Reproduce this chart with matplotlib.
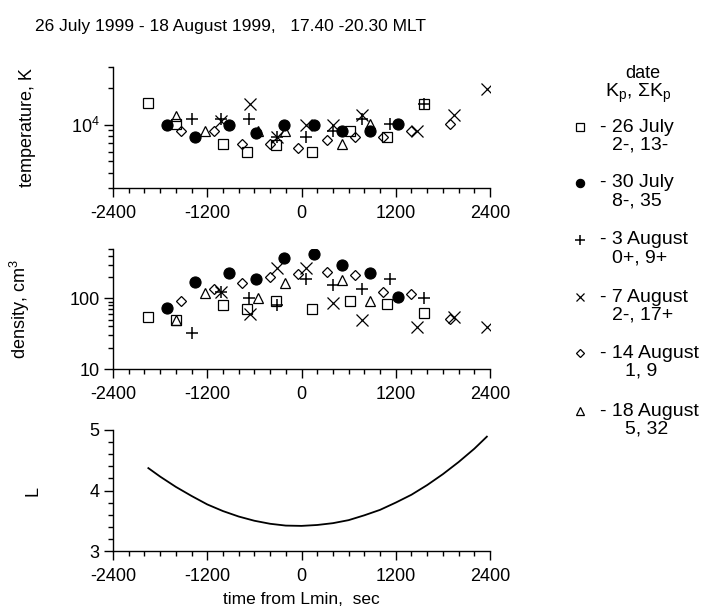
import matplotlib
matplotlib.use('Agg')
from matplotlib import pyplot as plt
from matplotlib.lines import Line2D
from matplotlib.ticker import MultipleLocator, FixedLocator, LogLocator, NullFormatter, FuncFormatter

plt.rcParams['font.family'] = ['Liberation Sans', 'DejaVu Sans']
plt.rcParams['mathtext.fontset'] = 'custom'
plt.rcParams['mathtext.rm'] = 'Liberation Sans'
plt.rcParams['mathtext.it'] = 'Liberation Sans:italic'

# ---- data (time from Lmin in sec) ----
t_jul26 = [-1955, -1593, -1000, -697, -331, 135, 620, 1087, 1558]
temp_jul26 = [15200, 10100, 6930, 5980, 6800, 5980, 8960, 7980, 14970]
dens_jul26 = [55, 50, 80, 71, 92, 71, 92, 82, 62.5]

t_jul30 = [-1712, -1351, -926, -574, -225, 157, 514, 870, 1231]
temp_jul30 = [10000, 7980, 10000, 8520, 10000, 10000, 8960, 8960, 10100]
dens_jul30 = [72, 171, 232, 186, 367, 423, 294, 232, 104]

t_aug03 = [-1390, -1025, -671, -314, 58, 403, 765, 1125, 1554]
temp_aug03 = [11160, 11160, 11160, 7980, 7900, 8960, 11160, 10100, 14970]
dens_aug03 = [32.5, 123, 100, 80, 186, 155, 134, 186, 102]

t_aug07 = [-1019, -654, -308, 53, 403, 772, 1475, 1941, 2357]
temp_aug07 = [10700, 14970, 7980, 10000, 10000, 12130, 8960, 12130, 19870]
dens_aug07 = [123, 61, 273, 273, 85, 50, 39.5, 55, 39.5]

t_aug14 = [-1529, -1117, -757, -395, -40, 320, 683, 1032, 1393, 1885]
temp_aug14 = [8960, 8960, 6930, 6930, 6460, 7500, 7980, 7980, 8960, 10100]
dens_aug14 = [92, 134, 167, 203, 219, 240, 212, 124, 117, 51.4]

t_aug18 = [-1593, -1232, -553, -213, 510, 870]
temp_aug18 = [11900, 8960, 8800, 8910, 6930, 10100]
dens_aug18 = [50, 120, 100, 163, 182, 92]

# L along the orbit
t_L = [-1950, -1800, -1600, -1400, -1200, -1000, -800, -600, -400, -200, 0,
       200, 400, 600, 800, 1000, 1200, 1400, 1600, 1800, 2000, 2200, 2360]
L_val = [4.37, 4.23, 4.06, 3.91, 3.77, 3.66, 3.57, 3.50, 3.45, 3.42, 3.415,
         3.43, 3.46, 3.51, 3.59, 3.68, 3.80, 3.93, 4.09, 4.27, 4.47, 4.69, 4.89]

series = [
    (t_jul26, temp_jul26, dens_jul26, dict(marker='s', ms=7.5, mfc='none', mew=0.9), '- 26 July', '2-, 13-'),
    (t_jul30, temp_jul30, dens_jul30, dict(marker='o', ms=8, mfc='black', mew=0.8), '- 30 July', '8-, 35'),
    (t_aug03, temp_aug03, dens_aug03, dict(marker='+', ms=9, mew=1.1), '- 3 August', '0+, 9+'),
    (t_aug07, temp_aug07, dens_aug07, dict(marker='x', ms=8, mew=0.9), '- 7 August', '2-, 17+'),
    (t_aug14, temp_aug14, dens_aug14, dict(marker='D', ms=5.5, mfc='none', mew=0.9), '- 14 August', '1, 9'),
    (t_aug18, temp_aug18, dens_aug18, dict(marker='^', ms=7.5, mfc='none', mew=0.9), '- 18 August', '5, 32'),
]

W, H = 711, 607
fig = plt.figure(figsize=(W / 100, H / 100), dpi=100)


def box(x0, y0, x1, y1):
    return [x0 / W, 1 - y1 / H, (x1 - x0) / W, (y1 - y0) / H]


ax_t = fig.add_axes(box(113, 67, 490, 188))
ax_n = fig.add_axes(box(113, 249, 490, 369))
ax_L = fig.add_axes(box(113, 430, 490, 551))

for ax in (ax_t, ax_n, ax_L):
    for s in ('top', 'right'):
        ax.spines[s].set_visible(False)
    ax.spines['left'].set_linewidth(1.0)
    ax.spines['bottom'].set_linewidth(1.0)
    ax.set_xlim(-2400, 2400)
    ax.xaxis.set_major_locator(MultipleLocator(1200))
    ax.xaxis.set_minor_locator(MultipleLocator(200))
    ax.tick_params(which='major', direction='out', length=6.5, width=1.0, labelsize=13, pad=6)
    ax.tick_params(axis='y', which='major', pad=3)
    ax.tick_params(which='minor', direction='out', length=3.8, width=1.0)
    ax.xaxis.set_major_formatter(FuncFormatter(lambda v, p: '%d' % v))

for t, temp, dens, st, _, _ in series:
    ax_t.plot(t, temp, ls='none', color='black', mec='black', **st)
    ax_n.plot(t, dens, ls='none', color='black', mec='black', **st)

ax_t.set_yscale('log')
ax_t.set_ylim(3000, 30000)
ax_t.yaxis.set_major_locator(FixedLocator([10000]))
ax_t.yaxis.set_minor_locator(LogLocator(base=10, subs=range(2, 10)))
ax_t.yaxis.set_major_formatter(FuncFormatter(lambda v, p: r'$\mathregular{10^4}$'))
ax_t.yaxis.set_minor_formatter(NullFormatter())
ax_t.set_ylabel('temperature, K', fontsize=13)
ax_t.yaxis.set_label_coords(-0.205, 0.5)

ax_n.set_yscale('log')
ax_n.set_ylim(10, 500)
ax_n.yaxis.set_major_locator(FixedLocator([10, 100]))
ax_n.yaxis.set_minor_locator(LogLocator(base=10, subs=range(2, 10)))
ax_n.yaxis.set_major_formatter(FuncFormatter(lambda v, p: '%d' % v))
ax_n.yaxis.set_minor_formatter(NullFormatter())
ax_n.set_ylabel(r'density, cm$^{\mathregular{3}}$', fontsize=13)
ax_n.yaxis.set_label_coords(-0.215, 0.5)

ax_L.plot(t_L, L_val, color='black', lw=1.3)
ax_L.set_ylim(3, 5)
ax_L.yaxis.set_major_locator(MultipleLocator(1))
ax_L.yaxis.set_minor_locator(MultipleLocator(0.2))
ax_L.set_ylabel('L', fontsize=13)
ax_L.yaxis.set_label_coords(-0.19, 0.5)
ax_L.set_xlabel('time from Lmin,  sec', fontsize=12.5, labelpad=5)

fig.text(35 / W, 1 - 26 / H, '26 July 1999 - 18 August 1999,   17.40 -20.30 MLT',
         fontsize=12.5, ha='left', va='center')

# legend column on the right
fig.text(643 / W, 1 - 73 / H, 'date', fontsize=13, ha='center', va='center')
fig.text(638 / W, 1 - 93 / H, r'K$_{\mathregular{p}}$, ΣK$_{\mathregular{p}}$', fontsize=14,
         ha='center', va='center')
row_y = [127, 183, 240, 297, 353, 411]
second_x = [612, 612, 612, 612, 625, 625]
for (t, temp, dens, st, line1, line2), y, x2 in zip(series, row_y, second_x):
    st_leg = dict(st)
    st_leg['ms'] = st['ms'] * 0.75
    fig.add_artist(Line2D([580 / W], [1 - y / H], ls='none', color='black', mec='black', **st_leg))
    fig.text(600 / W, 1 - y / H, line1, fontsize=14, ha='left', va='center')
    fig.text(x2 / W, 1 - (y + 18) / H, line2, fontsize=14, ha='left', va='center')

fig.savefig('out.png', dpi=100)
